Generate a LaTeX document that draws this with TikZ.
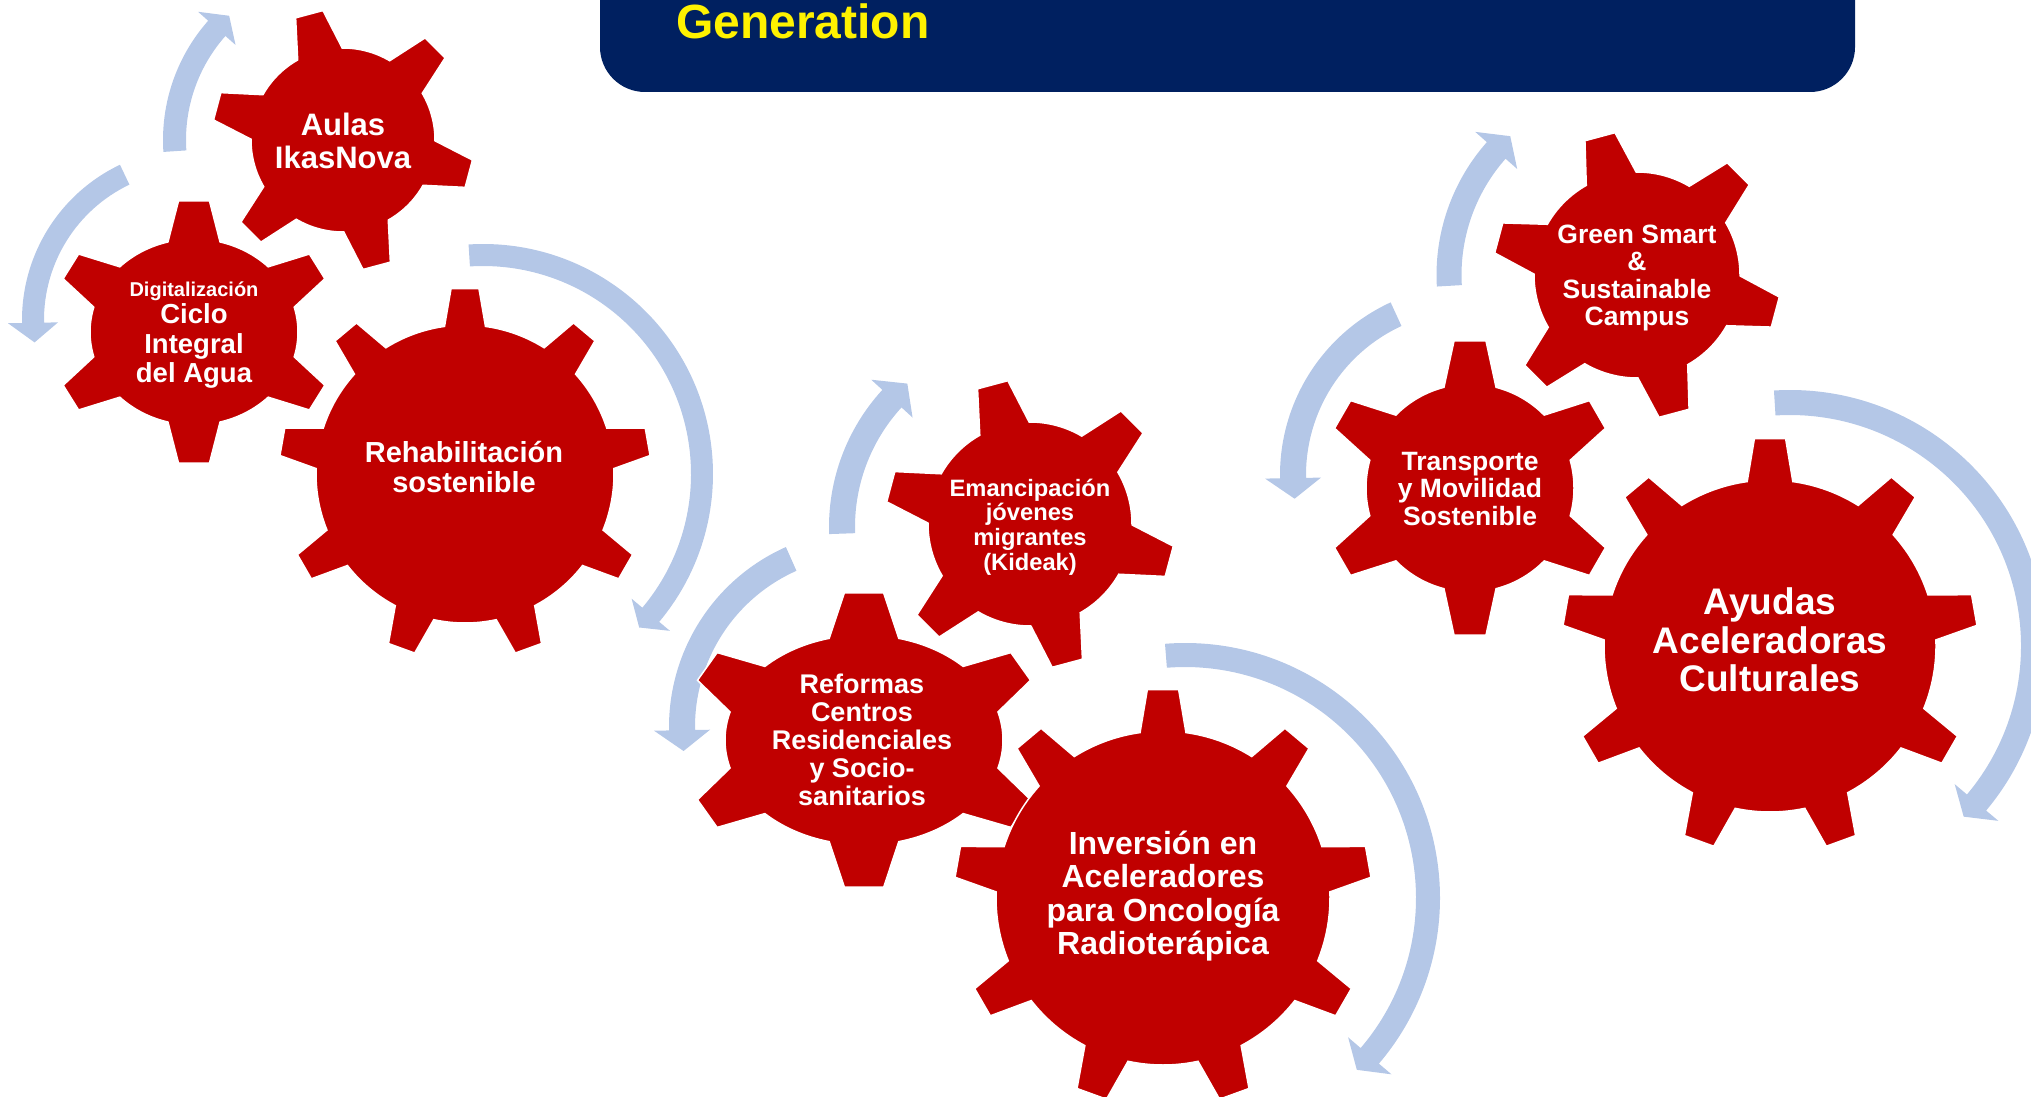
\documentclass[tikz,border=0pt]{standalone}
\usepackage{fontspec}
\setmainfont{Liberation Sans}
\usepackage{tikz}
\definecolor{gearred}{HTML}{C00000}
\definecolor{arrowblue}{HTML}{B4C7E7}
\definecolor{bannerblue}{HTML}{002060}
\newcommand*{\wMax}{2031}
\newcommand*{\hMax}{1097}

% gear: centre, x radius, y radius, tooth height, teeth, first tooth, foot half angle, tip half angle
\newcommand{\gear}[8]{%
  \pgfmathsetmacro{\gstep}{360/#5}%
  \pgfmathsetmacro{\gxo}{#2+#4}%
  \pgfmathsetmacro{\gyo}{#3+#4}%
  \fill[gearred, draw=white, line width=1.5pt, shift={#1}] (#6-#7:#2 and #3)
    \foreach \k [evaluate=\k as \a using #6+(\k-1)*\gstep] in {1,...,#5} {
      -- (\a-#8:{\gxo} and {\gyo}) -- (\a+#8:{\gxo} and {\gyo}) -- (\a+#7:#2 and #3)
      arc[start angle=\a+#7, end angle=\a+\gstep-#7, x radius=#2, y radius=#3]
    } -- cycle;
}
% circular arrow: centre, outer, inner, tail, head, tip, half width of the head
\newcommand{\cyclearrow}[7]{%
  \pgfmathsetmacro{\amid}{(#2+#3)/2}%
  \pgfmathsetmacro{\abo}{\amid+#7}%
  \pgfmathsetmacro{\abi}{\amid-#7}%
  \fill[arrowblue, shift={#1}] (#4:#2) arc[start angle=#4, end angle=#5, radius=#2]
    -- (#5:\abo) -- (#6:\amid) -- (#5:\abi) -- (#5:#3)
    arc[start angle=#5, end angle=#4, radius=#3] -- cycle;
}
\newcommand{\gfont}[1]{\fontsize{#1pt}{\dimexpr #1pt*104/100\relax}\selectfont}

\begin{document}
\begin{tikzpicture}[x=1pt, y=1pt,
    geartext/.style={text=white, align=center, inner sep=0pt, font=\bfseries\gfont{#1}}]
    \useasboundingbox (0,0) rectangle (\wMax,-\hMax);
    \clip (0,0) rectangle (\wMax,-\hMax);

    % title bar
    \fill [bannerblue, rounded corners=45pt] (600,60) rectangle (1855,-92);
    \node [anchor=base west, inner sep=0pt, text=yellow, font=\bfseries\fontsize{48pt}{50pt}\selectfont] (title) at (676,-39) {Generation};

    % arrows
    \cyclearrow{(483,-474)}{230}{208}{93.6}{-40}{-44.5}{25}
    \cyclearrow{(194,-320)}{172}{150}{115.5}{181}{188}{25}
    \cyclearrow{(343,-140)}{180}{157}{183.8}{138.5}{132.5}{25}

    \cyclearrow{(1185,-898)}{255}{231}{94.5}{-40.5}{-45}{28.5}
    \cyclearrow{(866,-727)}{197}{171}{114}{181}{187.5}{28}
    \cyclearrow{(1032,-527)}{203}{177}{182}{137.5}{131}{28}

    \cyclearrow{(1790,-646)}{256}{231}{93.6}{-40}{-44.5}{28.5}
    \cyclearrow{(1470,-475)}{190}{164}{114.7}{181}{187.7}{28}
    \cyclearrow{(1637,-275)}{200.5}{175.5}{183.3}{138.5}{132.4}{28}

    % gears
    \gear{(194,-332)}{104}{93}{39}{6}{90}{14.5}{6.2}
    \gear{(343,-140)}{92}{92}{39}{6}{105}{14.5}{6.2}
    \gear{(465,-474)}{149}{149}{37}{9}{90}{7.9}{4.3}

    \gear{(864,-740)}{139}{105}{43}{6}{90}{14.5}{6.2}
    \gear{(1030,-524)}{102}{102}{43}{6}{105}{14.5}{6.2}
    \gear{(1163,-898)}{167}{167}{42}{9}{90}{7.9}{4.3}

    \gear{(1470,-488)}{104}{104}{44}{6}{90}{14.5}{6.2}
    \gear{(1637,-275)}{103}{103}{41}{6}{105}{14.5}{6.2}
    \gear{(1770,-646)}{166}{166}{42}{9}{90}{7.9}{4.3}

    % labels
    \node [geartext=27.5] (ciclo) at (194,-335) {{\gfont{20}Digitalización}\\[-1pt]Ciclo\\[1pt]Integral\\[1pt]del Agua};
    \node [geartext=31] (aulas) at (343,-141) {Aulas\\IkasNova};
    \node [geartext=29] (rehab) at (464,-467) {Rehabilitación\\sostenible};

    \node [geartext=27] (reformas) at (862,-740) {Reformas\\Centros\\Residenciales\\y Socio-\\sanitarios};
    \node [geartext=23.7] (kideak) at (1030,-527) {Emancipación\\jóvenes\\migrantes\\(Kideak)};
    \node [geartext=32] (oncologia) at (1163,-896) {Inversión en\\Aceleradores\\para Oncología\\Radioterápica};

    \node [geartext=26.5] (movilidad) at (1470,-489) {Transporte\\y Movilidad\\Sostenible};
    \node [geartext=26.5] (campus) at (1637,-278) {Green Smart\\\&\\Sustainable\\Campus};
    \node [geartext=37] (ayudas) at (1770,-640) {Ayudas\\Aceleradoras\\Culturales};
  \end{tikzpicture}
\end{document}
